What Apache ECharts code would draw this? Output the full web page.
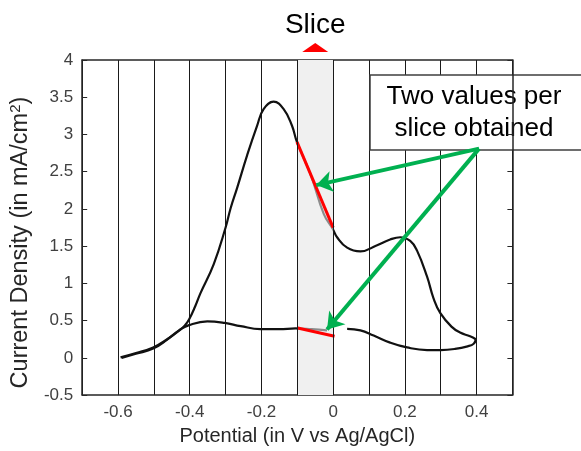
<!DOCTYPE html>
<html>
<head>
<meta charset="utf-8">
<script src="https://cdn.jsdelivr.net/npm/echarts@6/dist/echarts.min.js"></script>
<style>
html,body{margin:0;padding:0;background:#fff;}
#chart{width:581px;height:451px;}
</style>
</head>
<body>
<div id="chart"></div>
<script>
// ---- data ----
const xTickLabels = ['-0.6', '-0.4', '-0.2', '0', '0.2', '0.4'];
const yTickLabels = ['-0.5', '0', '0.5', '1', '1.5', '2', '2.5', '3', '3.5', '4'];
const sliceStart = -0.1;
const sliceEnd = 0;

// forward (anodic) scan: potential, current
const forwardV = [-0.593, -0.55, -0.502, -0.463, -0.426, -0.413, -0.402, -0.385, -0.37, -0.333, -0.30, -0.286, -0.268, -0.24, -0.212, -0.194, -0.166, -0.138, -0.115, -0.101, -0.062, -0.026, -0.001, 0.011, 0.039, 0.076, 0.121, 0.159, 0.187, 0.215, 0.234, 0.262, 0.28, 0.299, 0.33, 0.354, 0.382, 0.398];
const forwardI = [0.007, 0.065, 0.14, 0.25, 0.38, 0.44, 0.515, 0.69, 0.87, 1.26, 1.75, 2.01, 2.28, 2.72, 3.12, 3.34, 3.44, 3.34, 3.12, 2.90, 2.45, 1.93, 1.73, 1.62, 1.48, 1.43, 1.51, 1.59, 1.62, 1.57, 1.44, 1.09, 0.80, 0.60, 0.42, 0.34, 0.29, 0.25];

// reverse scan (null = gap in the trace)
const reverseV = [0.398, 0.392, 0.375, 0.34, 0.30, 0.262, 0.206, 0.159, 0.113, 0.076, 0.039, null, -0.017, -0.06, -0.105, -0.15, -0.203, -0.258, -0.303, -0.351, -0.402, -0.43, -0.463, -0.502, -0.55, -0.59];
const reverseI = [0.25, 0.19, 0.155, 0.12, 0.105, 0.105, 0.14, 0.205, 0.30, 0.37, 0.39, null, 0.37, 0.385, 0.395, 0.385, 0.386, 0.426, 0.47, 0.49, 0.44, 0.37, 0.245, 0.125, 0.055, 0.0];

// values obtained per slice (red segments)
const upperSliceV = [-0.101, 0.0];
const upperSliceI = [2.90, 1.75];
const lowerSliceV = [-0.099, 0.004];
const lowerSliceI = [0.40, 0.29];

// annotation arrows (data units)
const arrowStart = [0.407, 2.81];
const arrowTips = [[-0.047, 2.32], [-0.017, 0.38]];

const zip = (a, b) => a.map((v, i) => (v === null ? [null, null] : [v, b[i]]));

const FONT = 'Liberation Sans, Arial, Helvetica, sans-serif';
const chart = echarts.init(document.getElementById('chart'), null, {renderer: 'canvas'});

const option = {
  animation: false,
  backgroundColor: '#ffffff',
  textStyle: {fontFamily: FONT},
  grid: {left: 81.5, right: 68.6, top: 60, bottom: 51, show: false},
  visualMap: {
    show: false,
    type: 'piecewise',
    seriesIndex: [1, 2],
    dimension: 0,
    pieces: [{gte: sliceStart, lte: sliceEnd, color: '#8c8c8c'}],
    outOfRange: {color: '#111111'}
  },
  xAxis: [{
    type: 'value', min: -0.7, max: 0.5, interval: 0.1, position: 'bottom',
    name: 'Potential (in V vs Ag/AgCl)', nameLocation: 'middle', nameGap: 29,
    nameTextStyle: {fontSize: 20, color: '#262626', fontFamily: FONT},
    axisLine: {show: true, onZero: false, lineStyle: {color: '#262626', width: 1.5}},
    axisTick: {show: false},
    axisLabel: {
      fontSize: 17, color: '#404040', margin: 9, fontFamily: FONT,
      showMinLabel: true, showMaxLabel: true,
      formatter: function (v) {
        const k = Math.round(v * 10);
        if (k % 2 !== 0 || k < -6 || k > 4) return '';
        return xTickLabels[(k + 6) / 2];
      }
    },
    splitLine: {show: true, lineStyle: {color: '#1a1a1a', width: 1}}
  }, {
    type: 'value', min: -0.7, max: 0.5, interval: 0.1, position: 'top',
    axisLine: {show: true, onZero: false, lineStyle: {color: '#262626', width: 1.5}},
    axisTick: {show: false}, axisLabel: {show: false}, splitLine: {show: false}
  }],
  yAxis: [{
    type: 'value', min: -0.5, max: 4, interval: 0.5, position: 'left',
    name: 'Current Density (in mA/cm{sup|2})', nameLocation: 'middle', nameGap: 39, nameRotate: 90,
    nameTextStyle: {
      fontSize: 23.5, color: '#262626', fontFamily: FONT, padding: [0, 30, 0, 0],
      rich: {sup: {fontSize: 15, color: '#262626', verticalAlign: 'top', padding: [0, 0, 11, 0], fontFamily: FONT}}
    },
    axisLine: {show: true, onZero: false, lineStyle: {color: '#262626', width: 1.5}},
    axisTick: {show: true, inside: true, length: 5, lineStyle: {color: '#262626', width: 1}},
    axisLabel: {
      fontSize: 17, color: '#404040', margin: 9, fontFamily: FONT,
      formatter: function (v) {
        const k = Math.round(v * 2);
        return yTickLabels[k + 1] || '';
      }
    },
    splitLine: {show: false}
  }, {
    type: 'value', min: -0.5, max: 4, interval: 0.5, position: 'right',
    axisLine: {show: true, onZero: false, lineStyle: {color: '#262626', width: 1.5}},
    axisTick: {show: true, inside: true, length: 5, lineStyle: {color: '#262626', width: 1}},
    axisLabel: {show: false}, splitLine: {show: false}
  }],
  series: [
    {
      type: 'line', z: 1, silent: true, symbol: 'none',
      data: [[sliceStart, -0.5], [sliceEnd, -0.5]],
      lineStyle: {opacity: 0},
      markArea: {
        silent: true,
        itemStyle: {color: '#f0f0f0', opacity: 1},
        data: [[{xAxis: sliceStart}, {xAxis: sliceEnd}]]
      },
      markLine: {
        silent: true, symbol: 'none', label: {show: false},
        lineStyle: {color: '#1a1a1a', width: 1, type: 'solid'},
        data: [{xAxis: sliceStart}, {xAxis: sliceEnd}]
      }
    },
    {
      type: 'line', z: 3, symbol: 'none', smooth: 0.45, connectNulls: false,
      data: zip(forwardV, forwardI),
      lineStyle: {width: 2.2}
    },
    {
      type: 'line', z: 3, symbol: 'none', smooth: 0.45, connectNulls: false,
      data: zip(reverseV, reverseI),
      lineStyle: {width: 2.2}
    },
    {
      type: 'line', z: 4, symbol: 'none', data: zip(upperSliceV, upperSliceI),
      lineStyle: {color: '#ff0000', width: 3}
    },
    {
      type: 'line', z: 4, symbol: 'none', data: zip(lowerSliceV, lowerSliceI),
      lineStyle: {color: '#ff0000', width: 3}
    },
    {
      type: 'lines', coordinateSystem: 'cartesian2d', z: 5, silent: true,
      symbol: ['none', 'arrow'], symbolSize: 16,
      lineStyle: {color: '#00b050', width: 4, opacity: 1, curveness: 0},
      data: arrowTips.map(t => ({coords: [arrowStart, t]}))
    }
  ]
};
chart.setOption(option);

// annotations positioned from the slice location
const slicePix = chart.convertToPixel({gridIndex: 0}, [(sliceStart + sliceEnd) / 2, 4]);
const cx = slicePix[0];
chart.setOption({
  graphic: [
    {type: 'text', z: 100, x: cx, y: 25,
     style: {text: 'Slice', fontSize: 28, fontFamily: FONT, fill: '#000', align: 'center', verticalAlign: 'middle'}},
    {type: 'polygon', z: 100,
     shape: {points: [[cx, 43], [cx + 13, 52], [cx - 13, 52]]},
     style: {fill: '#ff0000'}},
    {type: 'group', z: 100, children: [
      {type: 'rect', shape: {x: 370, y: 75, width: 215, height: 75},
       style: {fill: '#ffffff', stroke: '#3f3f3f', lineWidth: 1.5}},
      {type: 'text', x: 474, y: 113,
       style: {text: 'Two values per\nslice obtained', fontSize: 26, lineHeight: 32, fontFamily: FONT,
               fill: '#000', align: 'center', verticalAlign: 'middle'}}
    ]}
  ]
});
</script>
</body>
</html>
